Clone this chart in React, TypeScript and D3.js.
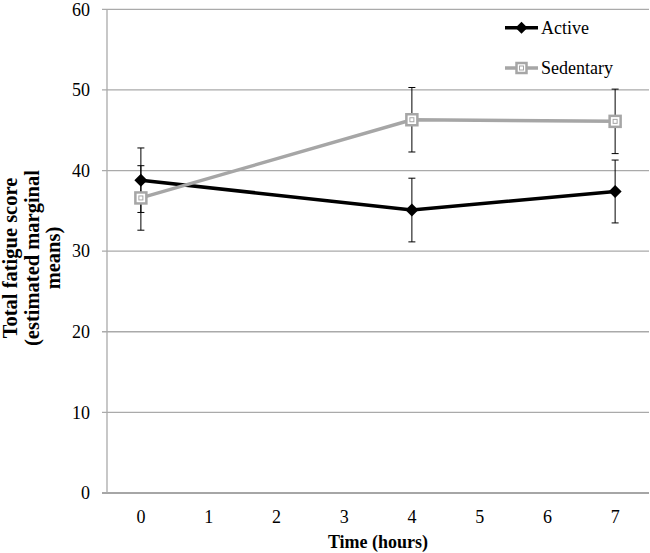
import React from "react";
import * as d3 from "d3";

const categories = ["0", "1", "2", "3", "4", "5", "6", "7"];
const yTicks = [0, 10, 20, 30, 40, 50, 60];
const activeX = ["0", "4", "7"];
const activeY = [38.8, 35.1, 37.4];
const activeErr = [4.0, 3.95, 3.9];
const sedentaryX = ["0", "4", "7"];
const sedentaryY = [36.6, 46.3, 46.1];
const sedentaryErr = [4.0, 4.0, 4.0];

const W = 650, H = 553;
const left = 107, right = 649, top = 9.3, bottom = 493;

export default function App() {
  const x = d3.scaleBand().domain(categories).range([left, right]);
  const y = d3.scaleLinear().domain([0, 60]).range([bottom, top]);
  const cx = (c: string) => (x(c) as number) + x.bandwidth() / 2;
  const line = d3.line<[number, number]>().x(d => d[0]).y(d => d[1]);
  const activePts: [number, number][] = activeX.map((c, i) => [cx(c), y(activeY[i])]);
  const sedPts: [number, number][] = sedentaryX.map((c, i) => [cx(c), y(sedentaryY[i])]);
  const font = "'Liberation Serif', 'Times New Roman', serif";
  const errBars = (xs: string[], ys: number[], es: number[], key: string) =>
    xs.map((c, i) => {
      const px = cx(c);
      const y1 = y(ys[i] + es[i]);
      const y2 = y(ys[i] - es[i]);
      return (
        <g key={key + i} stroke="#000" strokeWidth={1}>
          <line x1={px} x2={px} y1={y1} y2={y2} />
          <line x1={px - 3.5} x2={px + 3.5} y1={y1} y2={y1} />
          <line x1={px - 3.5} x2={px + 3.5} y1={y2} y2={y2} />
        </g>
      );
    });
  const diamond = (px: number, py: number, k: string, s = 6.5) => (
    <path key={k} d={`M${px},${py - s}L${px + s},${py}L${px},${py + s}L${px - s},${py}Z`} fill="#000" />
  );
  const square = (px: number, py: number, k: string, s = 5.5) => (
    <g key={k}>
      <rect x={px - s} y={py - s} width={2 * s} height={2 * s} fill="#fff" stroke="#a6a6a6" strokeWidth={2.5} />
      <rect x={px - 2} y={py - 2} width={4} height={4} fill="none" stroke="#a6a6a6" strokeWidth={1} />
    </g>
  );
  return (
    <svg width={W} height={H} style={{ position: "absolute", left: 0, top: 0 }} fontFamily={font}>
      <rect width={W} height={H} fill="#fff" />
      {yTicks.map(t => (
        <g key={t}>
          <line x1={left - 5} x2={right} y1={y(t)} y2={y(t)} stroke={t === 0 ? "#888" : "#aaa"} strokeWidth={t === 0 ? 1.5 : 1.3} />
          <text x={left - 17} y={y(t)} dy="0.35em" textAnchor="end" fontSize={18} fill="#000">{t}</text>
        </g>
      ))}
      <line x1={left} x2={left} y1={top} y2={bottom} stroke="#aaa" strokeWidth={1.3} />
      {categories.map(c => (
        <text key={c} x={cx(c)} y={517} dy="0.35em" textAnchor="middle" fontSize={18} fill="#000">{c}</text>
      ))}
      <text x={(left + right) / 2} y={542} dy="0.35em" textAnchor="middle" fontSize={18} fontWeight="bold">Time (hours)</text>
      <g transform={`translate(0,258) rotate(-90)`} fontSize={20.5} fontWeight="bold" textAnchor="middle">
        <text x={0} y={10} dy="0.35em">Total fatigue score</text>
        <text x={0} y={32} dy="0.35em">(estimated marginal</text>
        <text x={0} y={53} dy="0.35em">means)</text>
      </g>
      {errBars(activeX, activeY, activeErr, "ae")}
      {errBars(sedentaryX, sedentaryY, sedentaryErr, "se")}
      <path d={line(activePts) || ""} fill="none" stroke="#000" strokeWidth={3.5} />
      <path d={line(sedPts) || ""} fill="none" stroke="#a6a6a6" strokeWidth={3.5} />
      {activePts.map((p, i) => diamond(p[0], p[1], "ad" + i))}
      {sedPts.map((p, i) => square(p[0], p[1], "sq" + i))}
      <g>
        <line x1={505} x2={538} y1={27.7} y2={27.7} stroke="#000" strokeWidth={3.5} />
        {diamond(521.5, 27.7, "ld", 6)}
        <text x={541} y={27.7} dy="0.35em" fontSize={18}>Active</text>
        <line x1={505} x2={538} y1={68} y2={68} stroke="#a6a6a6" strokeWidth={3.5} />
        {square(521.5, 68, "ls", 5)}
        <text x={541} y={68} dy="0.35em" fontSize={18}>Sedentary</text>
      </g>
    </svg>
  );
}
